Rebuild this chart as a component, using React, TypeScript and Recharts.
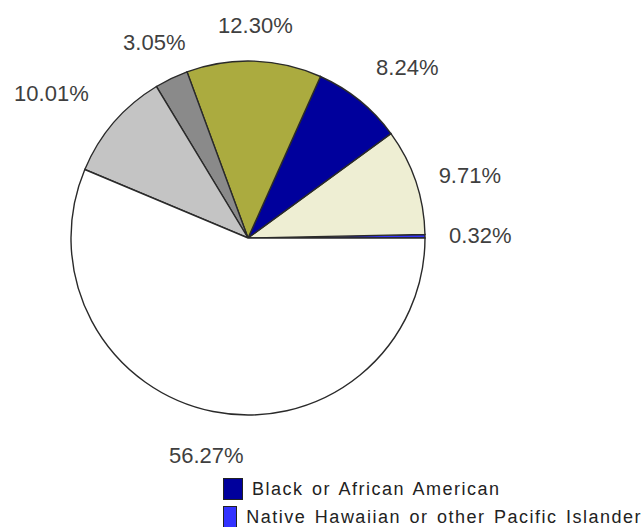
import { PieChart, Pie, Cell, Legend } from "recharts";

// slices, counter-clockwise from 3 o'clock
const groups = [
  "Native Hawaiian or other Pacific Islander",
  "Asian",
  "Black or African American",
  "Hispanic or Latino",
  "Two or more races",
  "Some other race",
  "White",
];
const shares = [0.32, 9.71, 8.24, 12.3, 3.05, 10.01, 56.27];
const legendGroups = ["Black or African American", "Native Hawaiian or other Pacific Islander"];

const colors = ["#3333FF", "#EEEED3", "#00009C", "#ABAB3F", "#8A8A8A", "#C4C4C4", "#FFFFFF"];

const data = groups.map((g, i) => ({ name: g, value: shares[i] }));

const FONT = "'Liberation Sans', Arial, sans-serif";
const LABEL_SIZE = 22;
const LABEL_GAP = 26;
const RAD = Math.PI / 180;
// small tweaks where excel moved a label off its slice middle
const labelAngleShift = [0, -3, -4, 0, 0, 4.5, 0.5];
const labelRadiusShift = [-2, -5, 4, 0, -8, 7, 2];

// rough arial advance widths, in em
const charW = (c: string) => (c === "." ? 0.278 : c === "%" ? 0.889 : 0.556);

// excel style: label box sits just outside the arc, nearest edge at a fixed gap
const renderLabel = (props: any) => {
  const { cx, cy, midAngle, outerRadius, value, index } = props;
  const num = value.toFixed(2);
  const w = (num + "%").split("").reduce((s: number, c: string) => s + charW(c), 0) * LABEL_SIZE;
  const h = LABEL_SIZE * 0.8;
  const mid = midAngle * RAD;
  const r =
    outerRadius +
    LABEL_GAP +
    Math.abs(Math.cos(mid)) * (w / 2) +
    Math.abs(Math.sin(mid)) * (h / 2) +
    labelRadiusShift[index];
  const a = (midAngle + labelAngleShift[index]) * RAD;
  return (
    <text
      x={cx + r * Math.cos(a)}
      y={cy - r * Math.sin(a)}
      textAnchor="middle"
      dominantBaseline="central"
      fill="#3f3f3f"
      fontSize={LABEL_SIZE}
      fontFamily={FONT}
    >
      {num}%
    </text>
  );
};

const renderLegend = () => (
  <div style={{ fontFamily: FONT }}>
    {legendGroups.map((g) => (
      <div key={g} style={{ display: "flex", alignItems: "center", height: 28 }}>
        <span
          style={{
            width: 20,
            height: 22,
            background: colors[groups.indexOf(g)],
            border: "1px solid #222",
            boxSizing: "border-box",
            marginRight: 9,
          }}
        />
        <span style={{ fontSize: 18, letterSpacing: 1.5, wordSpacing: 2, color: "#222", whiteSpace: "nowrap" }}>
          {g}
        </span>
      </div>
    ))}
  </div>
);

export default function App() {
  return (
    <div style={{ position: "absolute", left: 0, top: 0, background: "#fff" }}>
      <PieChart width={642} height={580}>
        <Pie
          data={data}
          dataKey="value"
          cx={243}
          cy={233}
          outerRadius={177}
          startAngle={0}
          endAngle={360}
          stroke="#2a2a2a"
          strokeWidth={1.4}
          label={renderLabel}
          labelLine={false}
          isAnimationActive={false}
        >
          {data.map((d, i) => (
            <Cell key={d.name} fill={colors[i]} />
          ))}
        </Pie>
        <Legend
          content={renderLegend}
          wrapperStyle={{ left: 223, top: 475, width: 419, bottom: "auto" }}
        />
      </PieChart>
    </div>
  );
}
